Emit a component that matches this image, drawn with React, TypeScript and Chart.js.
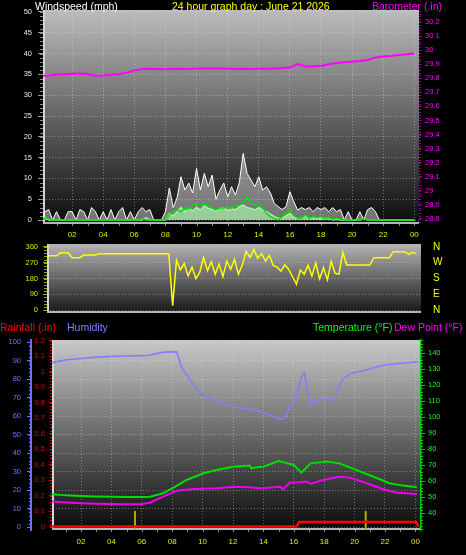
import React, { useEffect, useRef } from 'react';
import { Chart, registerables } from 'chart.js';

Chart.register(...registerables);

const FONT = "'Liberation Sans', Arial, Helvetica, sans-serif";
const GRID = 'rgba(235,235,235,0.38)';

// ---------- tick values ----------
const hourTicks = [2, 4, 6, 8, 10, 12, 14, 16, 18, 20, 22, 24];
const hourMinor = [1, 2, 3, 4, 5, 6, 7, 8, 9, 10, 11, 12, 13, 14, 15, 16, 17, 18, 19, 20, 21, 22, 23, 24];
const windTicks = [0, 5, 10, 15, 20, 25, 30, 35, 40, 45, 50];
const baroTicks = [28.8, 28.9, 29, 29.1, 29.2, 29.3, 29.4, 29.5, 29.6, 29.7, 29.8, 29.9, 30, 30.1, 30.2];
const dirTicks = [0, 90, 180, 270, 360];
const dirNames = ['N', 'E', 'S', 'W', 'N'];
const humTicks = [0, 10, 20, 30, 40, 50, 60, 70, 80, 90, 100];
const rainTicks = [0, 0.1, 0.2, 0.3, 0.4, 0.5, 0.6, 0.7, 0.8, 0.9, 1, 1.1, 1.2];
const tempTicks = [40, 50, 60, 70, 80, 90, 100, 110, 120, 130, 140];

// ---------- wind (one value every 15 minutes, 00:00 .. 24:00) ----------
const windStep = 0.25;
const windGust = [
  0, 2, 2.5, 0, 2, 0, 0, 2, 2, 0, 2.5, 2, 0, 3, 2, 0,
  2, 0, 2.5, 0, 2, 3, 0, 2, 0, 2, 3, 2, 2.5, 0, 0, 0,
  2, 7.7, 3, 5.3, 10.4, 7.2, 8.9, 6.5, 12.4, 7.2, 11.2, 8, 10.8, 5, 7.2, 8.9,
  5.6, 8, 6, 9, 16, 11.2, 9.6, 8, 10.4, 7.2, 8, 6.5, 4, 3.2, 2.5, 3.2,
  6.8, 4.4, 2.4, 3, 2.5, 3, 2, 3, 2.5, 3, 2, 3, 2, 2.5, 0, 2,
  0, 0, 2, 0, 2.5, 3, 2, 0, 0, 0, 0, 0, 0, 0, 0, 0,
  0,
];
const windSpeed = [
  0, 0.6, 0, 0, 0, 0, 0, 0, 0, 0, 0, 0, 0, 0, 0, 0,
  0, 0, 0, 0, 0, 0, 0, 0, 0, 0, 0, 0.5, 0, 0, 0, 0,
  0, 1.5, 1, 2, 3, 2, 2.8, 2.2, 3, 2.4, 3.4, 2.8, 2.6, 2, 2.8, 3,
  2.2, 2.8, 2.4, 3.2, 3.6, 3, 2.8, 2.4, 3, 2.4, 2, 1.4, 0.8, 0.4, 0.4, 1,
  1.6, 0.6, 0.4, 0.4, 1, 0.4, 0.6, 0.4, 0.6, 0.4, 0.6, 0, 0.2, 0, 0, 0,
  0, 0, 0, 0.4, 0, 0, 0, 0, 0, 0, 0, 0, 0, 0, 0, 0,
  0,
];
const windAvg = [
  0, 0.4, 0.3, 0, 0, 0, 0, 0, 0, 0, 0, 0, 0, 0, 0, 0,
  0, 0, 0, 0, 0, 0, 0, 0, 0, 0, 0.3, 0, 0, 0, 0, 0,
  0, 1.2, 2, 2.4, 2, 2.8, 2.6, 3.6, 4, 3.6, 4, 3.2, 2.9, 2.4, 2.9, 2.9,
  3.2, 2.8, 3.4, 3.6, 4.4, 5.6, 4, 3.6, 3.6, 2.9, 1.6, 0.8, 0.4, 0, 0.8, 1.6,
  2.4, 1.2, 0.4, 0.4, 1.2, 0.4, 0.8, 0.6, 0.8, 0.4, 0.6, 0.2, 0.4, 0.2, 0, 0,
  0, 0, 0, 0.3, 0, 0, 0, 0, 0, 0, 0, 0, 0, 0, 0, 0,
  0,
];
const windDir = [
  310, 310, 310, 310, 327, 327, 327, 299, 299, 299, 314, 314, 314, 314, 322, 322,
  322, 322, 322, 322, 322, 322, 322, 322, 322, 322, 322, 322, 322, 322, 322, 322,
  322, 25, 285, 230, 265, 195, 245, 180, 215, 300, 225, 275, 205, 262, 192, 280,
  232, 290, 205, 255, 335, 300, 345, 295, 322, 280, 312, 255, 245, 222, 258, 232,
  190, 148, 228, 205, 255, 195, 268, 178, 242, 172, 278, 210, 205, 330, 257, 257,
  257, 257, 257, 257, 257, 299, 299, 299, 299, 299, 333, 333, 333, 333, 318, 330,
  322,
];

// ---------- barometer (every 30 minutes) ----------
const baroStep = 0.5;
const barometer = [
  29.818, 29.82, 29.826, 29.828, 29.832, 29.833, 29.83, 29.818, 29.82, 29.824,
  29.828, 29.84, 29.856, 29.866, 29.868, 29.866, 29.864, 29.866, 29.868, 29.866,
  29.87, 29.87, 29.87, 29.87, 29.868, 29.866, 29.868, 29.866, 29.868, 29.868,
  29.87, 29.872, 29.876, 29.9, 29.885, 29.884, 29.888, 29.9, 29.908, 29.914,
  29.918, 29.922, 29.93, 29.948, 29.955, 29.958, 29.965, 29.97, 29.976,
];

// ---------- humidity / temperature / dew point / rain ----------
const humTimes = [0.1, 1, 2, 3, 4, 5, 6, 6.5, 7, 7.5, 8, 8.3, 8.6, 9.2, 9.8, 10.3, 11.1, 12, 12.9, 13.5, 14, 14.4, 15.1, 15.4, 15.75, 16.1, 16.5, 16.7, 16.85, 17.1, 17.5, 17.9, 18.6, 19.15, 19.7, 20.8, 21.9, 23.2, 24.2];
const humidity = [89, 90.5, 91.2, 92, 92.4, 92.6, 92.8, 93, 94, 94.7, 94.8, 94.8, 86.7, 79.5, 72.3, 70.5, 67.8, 65, 64.2, 63.3, 62, 60.6, 58.3, 59, 65, 68.7, 81.3, 83.4, 75.9, 66, 68, 69.6, 68.7, 79.5, 83, 85.2, 87.6, 88.8, 89.4];

const tempTimes = [0.1, 1, 2, 3, 4, 5, 6, 6.54, 7.4, 8.2, 8.95, 10.05, 10.9, 12, 13.1, 13.2, 13.5, 14, 15, 16, 16.5, 17.1, 18.2, 19, 20.1, 21.5, 22.3, 23.2, 24.1];
const temperature = [51.9, 51.2, 50.8, 50.5, 50.3, 50.2, 50.2, 50.4, 52.5, 56.6, 60.8, 65, 67.1, 69.1, 69.8, 68.1, 68.6, 69.1, 72.7, 70.2, 65.4, 71.2, 72.3, 71.2, 67.1, 61.9, 58.8, 57.3, 56.3];

const dewTimes = [0.1, 1, 2, 3, 4, 5, 6, 6.54, 7.4, 8.3, 9.2, 10.9, 12.2, 13, 13.8, 15.1, 15.3, 15.75, 16.2, 16.85, 17.1, 17.9, 19, 19.7, 20.8, 21.9, 22.8, 24.1];
const dewPoint = [47.3, 46.8, 46.3, 46, 45.8, 45.6, 45.8, 46.6, 50.4, 54.1, 55, 55.6, 56.6, 56.2, 55.6, 56.6, 55, 59.2, 59.2, 59.8, 58.3, 60.8, 62.9, 62.3, 58.8, 55, 52.8, 52];

const rainTimes = [0.1, 16.2, 16.35, 24.05, 24.2];
const rainfall = [0, 0, 0.03, 0.03, 0];

const sunTimes = [5.55, 20.73];
const sunMarkBase = -0.02;
const sunMarkTop = 0.1;

// ---------- helpers ----------
const pts = (times: number[], vals: number[]) => vals.map((y, i) => ({ x: times[i], y }));
const stepPts = (step: number, vals: number[]) => vals.map((y, i) => ({ x: i * step, y }));
const setTicks = (vals: number[]) => (axis: any) => {
  axis.ticks = vals.map((v) => ({ value: v }));
};
const fixSize = (w?: number, h?: number) => (s: any) => {
  if (w !== undefined) s.width = w;
  if (h !== undefined) s.height = h;
  s.paddingTop = 0;
  s.paddingBottom = 0;
  s.paddingLeft = 0;
  s.paddingRight = 0;
};
const hourLabel = (v: any) => String(Number(v) % 24).padStart(2, '0');
const oneDec = (v: any) => String(Math.round(Number(v) * 10) / 10);
const font = (size: number) => ({ family: FONT, size });

type Minor = { axis: string; from: number; to: number; step: number; len: number; color: string };
const minorTicks = (list: Minor[]) => ({
  id: 'minorTicks',
  afterDraw(chart: any) {
    const ctx = chart.ctx;
    ctx.save();
    ctx.lineWidth = 1;
    for (const m of list) {
      const sc = chart.scales[m.axis];
      if (!sc) continue;
      ctx.strokeStyle = m.color;
      const n = Math.round((m.to - m.from) / m.step);
      ctx.beginPath();
      for (let i = 0; i <= n; i++) {
        const v = m.from + i * m.step;
        if (v < sc.min || v > sc.max) continue;
        const p = Math.round(sc.getPixelForValue(v)) + 0.5;
        if (sc.isHorizontal()) {
          ctx.moveTo(p, sc.top);
          ctx.lineTo(p, sc.top + m.len);
        } else if (sc.position === 'left') {
          ctx.moveTo(sc.right - m.len, p);
          ctx.lineTo(sc.right, p);
        } else {
          ctx.moveTo(sc.left, p);
          ctx.lineTo(sc.left + m.len, p);
        }
      }
      ctx.stroke();
    }
    ctx.restore();
  },
});

const panelBg = (top: string, bottom: string) => ({
  id: 'panelBg',
  beforeDraw(chart: any) {
    const { ctx, chartArea: a } = chart;
    ctx.save();
    const g = ctx.createLinearGradient(0, a.top, 0, a.bottom);
    g.addColorStop(0, top);
    g.addColorStop(1, bottom);
    ctx.fillStyle = g;
    ctx.fillRect(a.left, a.top, a.right - a.left, a.bottom - a.top);
    ctx.fillStyle = '#d4d4d4';
    ctx.fillRect(a.left, a.top, 2, a.bottom - a.top);
    ctx.fillStyle = '#b4b4b4';
    ctx.fillRect(a.left, a.bottom - 2, a.right - a.left, 2);
    ctx.restore();
  },
});

type Txt = { text: string; x: number; y: number; color: string; size: number; align?: CanvasTextAlign };
const texts = (list: Txt[]) => ({
  id: 'texts',
  afterDraw(chart: any) {
    const ctx = chart.ctx;
    ctx.save();
    ctx.textBaseline = 'alphabetic';
    for (const t of list) {
      ctx.font = `${t.size}px ${FONT}`;
      ctx.fillStyle = t.color;
      ctx.textAlign = t.align || 'left';
      ctx.fillText(t.text, t.x, t.y);
    }
    ctx.restore();
  },
});

const base = {
  responsive: false,
  animation: false as const,
  devicePixelRatio: 1,
  events: [] as any[],
  plugins: { legend: { display: false }, tooltip: { enabled: false } },
};

export default function App() {
  const r1 = useRef<HTMLCanvasElement>(null);
  const r2 = useRef<HTMLCanvasElement>(null);
  const r3 = useRef<HTMLCanvasElement>(null);

  useEffect(() => {
    const charts: Chart[] = [];

    // ---------- panel 1 : wind speed + barometer ----------
    charts.push(
      new Chart(r1.current!, {
        type: 'line',
        data: {
          datasets: [
            { data: stepPts(baroStep, barometer), yAxisID: 'yBaro', borderColor: '#ff00ff', borderWidth: 2, pointRadius: 0 },
            { data: stepPts(windStep, windAvg), yAxisID: 'yWind', borderColor: '#00e000', borderWidth: 1.5, pointRadius: 0 },
            {
              data: stepPts(windStep, windSpeed), yAxisID: 'yWind', borderColor: '#a8f0a8',
              backgroundColor: 'rgba(170,240,170,0.7)', fill: 'origin', borderWidth: 1.5, pointRadius: 0,
            },
            {
              data: stepPts(windStep, windGust), yAxisID: 'yWind', borderColor: '#ffffff',
              backgroundColor: 'rgba(255,255,255,0.42)', fill: 'origin', borderWidth: 1, pointRadius: 0,
            },
          ] as any,
        },
        options: {
          ...base,
          layout: { padding: { top: 10, left: 0, right: 0, bottom: 0 } },
          scales: {
            x: {
              type: 'linear', min: 0.13, max: 24.3,
              afterBuildTicks: setTicks(hourTicks), afterFit: fixSize(undefined, 16),
              ticks: { color: '#e8e800', font: font(8), padding: 6, maxRotation: 0, autoSkip: false, callback: hourLabel },
              grid: { color: GRID, drawTicks: false },
              border: { display: false, dash: [1, 2] },
            },
            yWind: {
              position: 'left', min: -0.96, max: 50.48,
              afterBuildTicks: setTicks(windTicks), afterFit: fixSize(43),
              ticks: { color: '#dfe7ff', font: font(7.5), padding: 6, autoSkip: false },
              grid: { color: GRID, tickColor: '#9a9a9a', tickLength: 5 },
              border: { display: false, dash: [1, 2] },
            },
            yBaro: {
              position: 'right', min: 28.764, max: 30.285,
              afterBuildTicks: setTicks(baroTicks), afterFit: fixSize(47),
              ticks: { color: '#ff00ff', font: font(7.5), padding: 3, autoSkip: false, callback: oneDec },
              grid: { drawOnChartArea: false, tickColor: '#900090', tickLength: 3 },
              border: { display: false },
            },
          } as any,
        },
        plugins: [
          panelBg('#bcbcbc', '#0c0c0c'),
          minorTicks([
            { axis: 'yWind', from: 0, to: 50, step: 1, len: 3, color: '#8a8a8a' },
            { axis: 'yBaro', from: 28.76, to: 30.28, step: 0.02, len: 2, color: '#900090' },
            { axis: 'x', from: hourMinor[0], to: hourMinor[hourMinor.length - 1], step: 1, len: 2, color: '#8a8a8a' },
          ]),
          texts([
            { text: 'Windspeed (mph)', x: 35, y: 9.5, color: '#ffffff', size: 10.5 },
            { text: '24 hour graph day : June 21 2026', x: 172, y: 9.5, color: '#ffff00', size: 10.5 },
            { text: 'Barometer (.in)', x: 372, y: 9.5, color: '#ff00ff', size: 10.5 },
          ]),
        ],
      } as any)
    );

    // ---------- panel 2 : wind direction ----------
    charts.push(
      new Chart(r2.current!, {
        type: 'line',
        data: {
          datasets: [
            { data: stepPts(windStep, windDir), yAxisID: 'yDir', borderColor: '#ffff00', borderWidth: 1.5, pointRadius: 0 },
          ] as any,
        },
        options: {
          ...base,
          layout: { padding: { top: 4, bottom: 7, left: 0, right: 0 } },
          scales: {
            x: { type: 'linear', display: false, min: 0.13, max: 24.3 },
            yDir: {
              position: 'left', min: -17, max: 377,
              afterBuildTicks: setTicks(dirTicks), afterFit: fixSize(47),
              ticks: { color: '#e0e000', font: font(7.5), padding: 5, autoSkip: false },
              grid: { color: GRID, tickColor: '#a0a000', tickLength: 4 },
              border: { display: false, dash: [1, 2] },
            },
            yDirR: {
              position: 'right', min: -17, max: 377,
              afterBuildTicks: setTicks(dirTicks), afterFit: fixSize(45),
              ticks: {
                color: '#ffff00', font: font(10), padding: 12, autoSkip: false,
                callback: (v: any) => dirNames[dirTicks.indexOf(Number(v))],
              },
              grid: { drawOnChartArea: false, drawTicks: false },
              border: { display: false },
            },
          } as any,
        },
        plugins: [
          panelBg('#b4b4b4', '#161616'),
          minorTicks([{ axis: 'yDir', from: 0, to: 360, step: 18, len: 3, color: '#a0a000' }]),
        ],
      } as any)
    );

    // ---------- panel 3 : rain, humidity, temperature, dew point ----------
    const sunPts = sunTimes.flatMap((t) => [
      { x: t, y: sunMarkBase },
      { x: t, y: sunMarkTop },
      { x: t, y: null },
    ]);
    charts.push(
      new Chart(r3.current!, {
        type: 'line',
        data: {
          datasets: [
            { data: pts(rainTimes, rainfall), yAxisID: 'yRain', borderColor: '#ff0000', borderWidth: 2.5, pointRadius: 0 },
            { data: sunPts, yAxisID: 'yRain', borderColor: '#b8a800', borderWidth: 2, pointRadius: 0, spanGaps: false },
            { data: pts(tempTimes, temperature), yAxisID: 'yTemp', borderColor: '#00dd00', borderWidth: 2, pointRadius: 0 },
            { data: pts(dewTimes, dewPoint), yAxisID: 'yTemp', borderColor: '#ee00ee', borderWidth: 2, pointRadius: 0 },
            { data: pts(humTimes, humidity), yAxisID: 'yHum', borderColor: '#8080ff', borderWidth: 1.6, pointRadius: 0 },
          ] as any,
        },
        options: {
          ...base,
          layout: { padding: { top: 20, left: 0, right: 0, bottom: 0 } },
          scales: {
            x: {
              type: 'linear', min: 0.09, max: 24.37,
              afterBuildTicks: setTicks(hourTicks), afterFit: fixSize(undefined, 25),
              ticks: { color: '#e8e800', font: font(8), padding: 7, maxRotation: 0, autoSkip: false, callback: hourLabel },
              grid: { color: GRID, drawTicks: false },
              border: { display: false, dash: [1, 2] },
            },
            yHum: {
              position: 'left', weight: 1, min: -1.46, max: 101.24,
              afterBuildTicks: setTicks(humTicks), afterFit: fixSize(31),
              ticks: { color: '#7272ff', font: font(7.5), padding: 6, autoSkip: false },
              grid: { color: GRID, tickColor: '#7070ff', tickLength: 4 },
              border: { display: true, color: '#7070ff', width: 2, dash: [1, 2] },
            },
            yRain: {
              position: 'left', weight: 0, min: -0.0218, max: 1.2038,
              afterBuildTicks: setTicks(rainTicks), afterFit: fixSize(21),
              ticks: { color: '#dd0000', font: font(7.5), padding: 4, autoSkip: false, callback: oneDec },
              grid: { drawOnChartArea: false, tickColor: '#dd0000', tickLength: 3 },
              border: { display: false },
            },
            yTemp: {
              position: 'right', min: 29.56, max: 148.3,
              afterBuildTicks: setTicks(tempTicks), afterFit: fixSize(45),
              ticks: { color: '#22ee22', font: font(7.5), padding: 3, autoSkip: false },
              grid: { drawOnChartArea: false, tickColor: '#00cc00', tickLength: 4 },
              border: { display: true, color: '#00cc00', width: 1.5 },
            },
          } as any,
        },
        plugins: [
          panelBg('#c8c8c8', '#0a0a0a'),
          minorTicks([
            { axis: 'yHum', from: 0, to: 100, step: 2, len: 2, color: '#7070ff' },
            { axis: 'yRain', from: 0, to: 1.2, step: 0.02, len: 2, color: '#dd0000' },
            { axis: 'yTemp', from: 30, to: 148, step: 2, len: 2, color: '#00cc00' },
            { axis: 'x', from: hourMinor[0], to: hourMinor[hourMinor.length - 1], step: 1, len: 2, color: '#8a8a8a' },
          ]),
          texts([
            { text: 'Rainfall (.in)', x: 0, y: 10.5, color: '#ff0000', size: 10.5 },
            { text: 'Humidity', x: 67, y: 10.5, color: '#8080ff', size: 10.5 },
            { text: 'Temperature (°F)', x: 313, y: 10.5, color: '#00ff00', size: 10.5 },
            { text: 'Dew Point (°F)', x: 394, y: 10.5, color: '#ff00ff', size: 10.5 },
          ]),
        ],
      } as any)
    );

    return () => charts.forEach((c) => c.destroy());
  }, []);

  return (
    <div style={{ position: 'fixed', left: 0, top: 0, width: 466, height: 555, background: '#000', overflow: 'hidden' }}>
      <canvas ref={r1} width={466} height={240} style={{ position: 'absolute', left: 0, top: 0 }} />
      <canvas ref={r2} width={466} height={80} style={{ position: 'absolute', left: 0, top: 240 }} />
      <canvas ref={r3} width={466} height={235} style={{ position: 'absolute', left: 0, top: 320 }} />
    </div>
  );
}
